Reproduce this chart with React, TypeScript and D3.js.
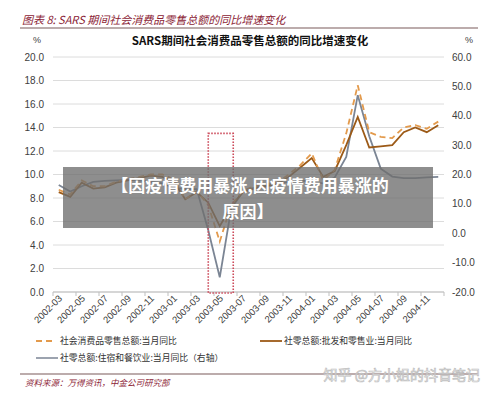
import React from 'react';
import * as d3 from 'd3';

// months 2002-03 .. 2004-12
const months = [
  '2002-03', '2002-04', '2002-05', '2002-06', '2002-07', '2002-08', '2002-09', '2002-10',
  '2002-11', '2002-12', '2003-01', '2003-02', '2003-03', '2003-04', '2003-05', '2003-06',
  '2003-07', '2003-08', '2003-09', '2003-10', '2003-11', '2003-12', '2004-01', '2004-02',
  '2004-03', '2004-04', '2004-05', '2004-06', '2004-07', '2004-08', '2004-09', '2004-10',
  '2004-11', '2004-12',
];

// 社会消费品零售总额:当月同比 (left axis)
const retailTotal = [
  8.7, 8.3, 9.5, 9.0, 9.0, 9.4, 9.6, 9.8, 10.0, 10.0, 9.6, 7.9, 8.6, 7.4, 4.3, 7.4, 8.6,
  9.0, 9.2, 9.3, 10.0, 10.8, 11.8, 9.5, 10.4, 13.5, 17.6, 13.6, 13.2, 13.1, 14.0, 14.2, 13.9,
  14.5,
];

// 社零总额:批发和零售业:当月同比 (left axis)
const wholesaleRetail = [
  8.5, 8.1, 9.3, 8.8, 8.9, 9.3, 9.5, 9.7, 9.9, 9.8, 9.4, 7.9, 8.5, 7.6, 5.6, 7.3, 8.5,
  8.8, 9.0, 9.2, 9.8, 10.6, 11.4, 9.8, 10.3, 12.5, 14.9, 12.3, 12.4, 12.5, 13.6, 14.0, 13.6,
  14.2,
];

// 社零总额:住宿和餐饮业:当月同比 (right axis)
const catering = [
  16.4, 14.2, 16.0, 17.5, 17.8, 18.0, 18.2, 18.0, 17.5, 17.0, 15.5, 15.0, 15.0, 1.0, -15.0,
  8.5, 14.0, 15.5, 16.5, 17.0, 17.5, 18.0, 17.5, 17.0, 19.0, 26.0, 47.0, 33.0, 22.0, 19.3,
  18.8, 18.8, 19.0, 19.2,
];

const leftTicks = [0, 2, 4, 6, 8, 10, 12, 14, 16, 18, 20];
const rightTicks = [-20, -10, 0, 10, 20, 30, 40, 50, 60];

const seriesNames = [
  '社会消费品零售总额:当月同比',
  '社零总额:批发和零售业:当月同比',
  '社零总额:住宿和餐饮业:当月同比（右轴）',
];

const W = 500;
const H = 396;
const plot = { left: 53, right: 444, top: 57, bottom: 292 };
const cjk = '"Noto Sans CJK SC", "Noto Sans", sans-serif';
const latin = '"Liberation Sans", Arial, sans-serif';

const App = () => {
  const x = d3.scaleBand().domain(months).range([plot.left, plot.right]);
  const cx = (m: string) => (x(m) as number) + x.bandwidth() / 2;
  const yL = d3.scaleLinear().domain([0, 20]).range([plot.bottom, plot.top]);
  const yR = d3.scaleLinear().domain([-20, 60]).range([plot.bottom, plot.top]);

  const lineL = d3
    .line<number>()
    .x((_, i) => cx(months[i]))
    .y((d) => yL(d));
  const lineR = d3
    .line<number>()
    .x((_, i) => cx(months[i]))
    .y((d) => yR(d));

  const tickMonths = months.filter((_, i) => i % 2 === 0);

  // SARS highlight box: 2003-04 .. 2003-06
  const boxX0 = cx('2003-04');
  const boxX1 = cx('2003-06') + 2;
  const boxY0 = yL(13.5);

  return (
    <svg
      width={W}
      height={H}
      style={{ position: 'absolute', left: 0, top: 0, background: '#fff' }}
    >
      {/* header */}
      <text x={22} y={24} fontFamily={cjk} fontSize={11} fontStyle="italic" fill="#8b2335">
        图表 8: SARS 期间社会消费品零售总额的同比增速变化
      </text>
      <line x1={20} x2={478} y1={28} y2={28} stroke="#7a5a5a" strokeWidth={1.2} />

      <text x={250} y={45} textAnchor="middle" fontFamily={cjk} fontSize={11.5} fontWeight="bold" fill="#111">
        SARS期间社会消费品零售总额的同比增速变化
      </text>
      <text x={37} y={43} textAnchor="middle" fontFamily={latin} fontSize={9} fill="#404040">%</text>
      <text x={469} y={43} textAnchor="middle" fontFamily={latin} fontSize={9} fill="#404040">%</text>

      {/* grid + left axis */}
      {leftTicks.map((t) => (
        <g key={'l' + t}>
          <line x1={plot.left} x2={plot.right} y1={yL(t)} y2={yL(t)} stroke="#dcdcdc" strokeWidth={1} />
          <text x={44} y={yL(t) + 3.5} textAnchor="end" fontFamily={latin} fontSize={10} fill="#404040">
            {t.toFixed(1)}
          </text>
        </g>
      ))}
      {rightTicks.map((t) => (
        <text key={'r' + t} x={452} y={yR(t) + 3.5} fontFamily={latin} fontSize={10} fill="#404040">
          {t.toFixed(1)}
        </text>
      ))}

      {/* x axis */}
      <line x1={plot.left} x2={plot.right} y1={plot.bottom} y2={plot.bottom} stroke="#bfbfbf" />
      {tickMonths.map((m) => (
        <line key={'t' + m} x1={x(m)} x2={x(m)} y1={plot.bottom} y2={plot.bottom + 4} stroke="#bfbfbf" />
      ))}
      <line x1={plot.right} x2={plot.right} y1={plot.bottom} y2={plot.bottom + 4} stroke="#bfbfbf" />
      {tickMonths.map((m) => (
        <text
          key={'xl' + m}
          transform={`translate(${cx(m) + 4},${plot.bottom + 7}) rotate(-45)`}
          textAnchor="end"
          fontFamily={latin}
          fontSize={9.5}
          fill="#404040"
        >
          {m}
        </text>
      ))}

      {/* series */}
      <path d={lineR(catering) || ''} fill="none" stroke="#7b8594" strokeWidth={1.8} />
      <path d={lineL(wholesaleRetail) || ''} fill="none" stroke="#9c5a17" strokeWidth={1.8} />
      <path d={lineL(retailTotal) || ''} fill="none" stroke="#e39a4c" strokeWidth={1.8} strokeDasharray="6,4" />

      {/* SARS box */}
      <rect
        x={boxX0}
        y={boxY0}
        width={boxX1 - boxX0}
        height={plot.bottom + 1 - boxY0}
        fill="none"
        stroke="#cc4a5a"
        strokeWidth={1.6}
        strokeDasharray="1.5,1.5"
      />

      {/* legend */}
      <line x1={36} x2={54} y1={341} y2={341} stroke="#e39a4c" strokeWidth={1.8} strokeDasharray="6,4" />
      <text x={60} y={344} fontFamily={cjk} fontSize={8.8} fill="#333">{seriesNames[0]}</text>
      <line x1={260} x2={282} y1={341} y2={341} stroke="#9c5a17" strokeWidth={1.8} />
      <text x={284} y={344} fontFamily={cjk} fontSize={8.8} fill="#333">{seriesNames[1]}</text>
      <line x1={36} x2={58} y1={358} y2={358} stroke="#7b8594" strokeWidth={1.5} />
      <text x={60} y={361} fontFamily={cjk} fontSize={8.8} fill="#333">{seriesNames[2]}</text>

      <line x1={20} x2={478} y1={374} y2={374} stroke="#7a5a5a" strokeWidth={1.2} />
      <text x={25} y={386} fontFamily={cjk} fontSize={8.5} fontStyle="italic" fill="#8b2335">
        资料来源：万得资讯，中金公司研究部
      </text>
      <text
        x={480}
        y={380}
        textAnchor="end"
        fontFamily={cjk}
        fontSize={14}
        fill="#ffffff"
        fillOpacity={0.6}
        stroke="#bdbdbd"
        strokeWidth={0.7}
      >
        知乎 @方小姐的抖音笔记
      </text>

      {/* overlay banner */}
      <rect x={63} y={167} width={370} height={61} fill="#6e6e6e" fillOpacity={0.78} />
      <text x={250} y={192} textAnchor="middle" fontFamily={cjk} fontSize={17} fontWeight="bold" fill="#fff">
        【因疫情费用暴涨,因疫情费用暴涨的
      </text>
      <text x={248} y={218} textAnchor="middle" fontFamily={cjk} fontSize={17} fontWeight="bold" fill="#fff">
        原因】
      </text>
    </svg>
  );
};

export default App;
